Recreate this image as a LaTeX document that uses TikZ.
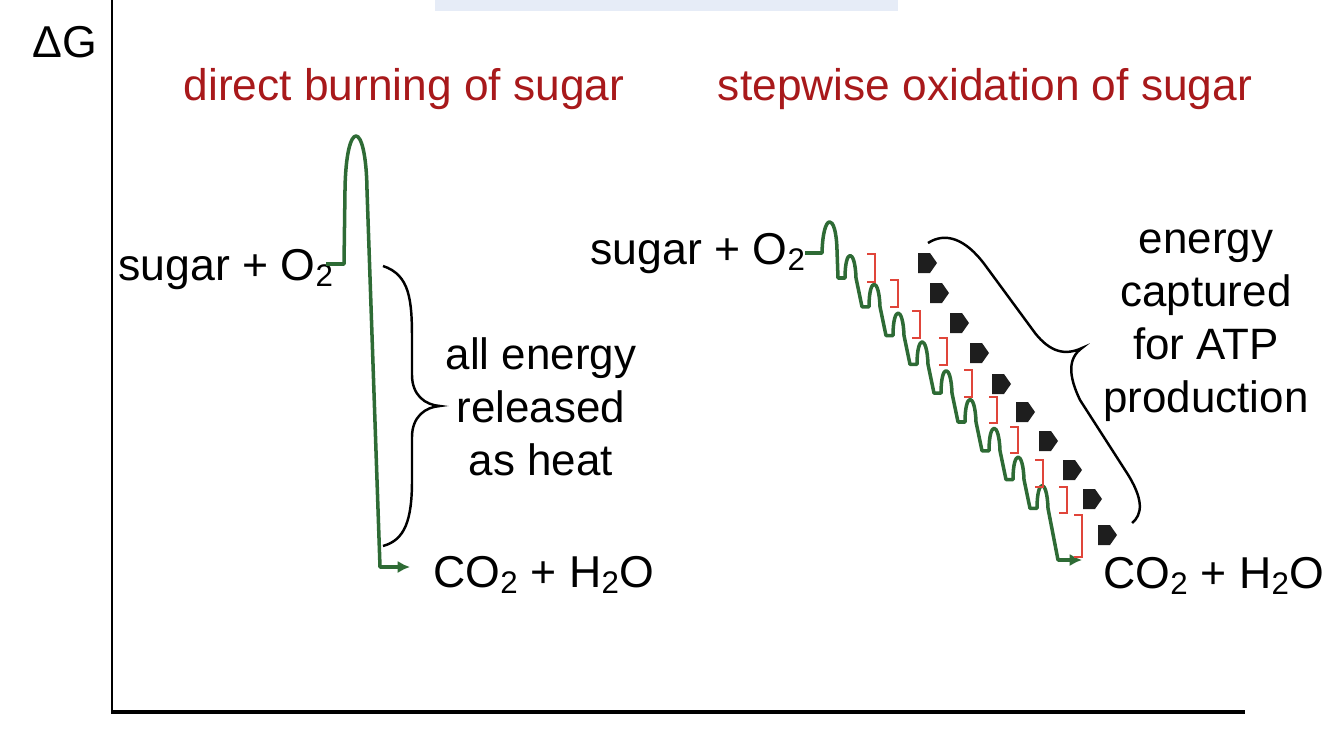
\documentclass[tikz,border=0pt]{standalone}
\usepackage{fontspec}
\setmainfont{Liberation Sans}
\usepackage{tikz}
\usetikzlibrary{arrows.meta}
\definecolor{leaf}{HTML}{2E6B35}
\definecolor{brick}{HTML}{A8191B}
\definecolor{flame}{HTML}{E0453A}
\definecolor{haze}{HTML}{E6ECF7}
\definecolor{ink}{HTML}{1E1E1E}

\begin{document}
\begin{tikzpicture}[x=0.02cm,y=-0.02cm,>={Latex[length=7pt,width=7pt]},
  chem/.style={inner sep=0pt,font=\fontsize{25.4}{31}\selectfont},
  lbl/.style={inner sep=0pt,align=center,font=\fontsize{25}{30.2}\selectfont},
  titletext/.style={inner sep=0pt,text=brick,font=\fontsize{25.2}{30}\selectfont},
  react/.style={leaf,line width=2pt,line join=round},
  curly/.style={line width=1.4pt},
  drop/.style={flame,line width=0.9pt},
  atp/.style={fill=ink}]
\useasboundingbox (0,0) rectangle (1334,733);
\fill[haze] (435,0) rectangle (898,11);
\draw[line width=1.2pt] (112,0) -- (112,712);
\draw[line width=2pt] (111,712) -- (1245,712);
\node[chem] (dG) at (65,42) {ΔG};
\node[titletext,anchor=base] (direct) at (404,101) {direct burning of sugar};
\node[titletext,anchor=base] (stepwise) at (985,101) {stepwise oxidation of sugar};
\node[chem,anchor=base west] (sugarL) at (118,280) {sugar + O\textsubscript{2}};
\node[chem,anchor=base west] (prodL) at (433,587) {CO\textsubscript{2} + H\textsubscript{2}O};
\node[chem,anchor=base west] (sugarR) at (590,264) {sugar + O\textsubscript{2}};
\node[chem,anchor=base west] (prodR) at (1103,588) {CO\textsubscript{2} + H\textsubscript{2}O};
\node[lbl] (heat) at (541,407) {all energy\\released\\as heat};
\node[lbl] (capture) at (1206,326) {energy\\captured\\for ATP\\production};
\coordinate (startL) at (326,264);
\coordinate (endL) at (410,567);
\coordinate (startR) at (805,253);
\coordinate (endR) at (1082,560);
\draw[react,->] (startL) -- (344,264) -- (345,190) .. controls (346,118) and (366,118) .. (367,190) -- (380,567) -- (endL);
\draw[react,->] (startR) -- (822,253) .. controls (823,212) and (836,212) .. (837,250) -- (838,278)
  \foreach \i [evaluate=\i as \x using 838+24*\i, evaluate=\i as \y using 278+28.8*\i] in {0,...,7} {
    -- (\x+7,\y) .. controls (\x+7,\y-30) and (\x+17,\y-30) .. (\x+18,\y) -- (\x+24,\y+28.8)}
  -- (1037,508.4) .. controls (1037,478) and (1047,478) .. (1048,508.4) -- (1058,560) -- (endR);
\foreach \a/\b/\c in {875/254/282,898/280/307,920/311/338,947/338/365,972/370/397,997/397/423,1018/427/453,1043/460/487,1067/487/513,1082/515/557}
  \draw[drop] (\a-8,\b) -- (\a,\b) -- (\a,\c) -- (\a-8,\c);
\foreach \x/\y in {918/253,930/283,950/313,970/343,992/374,1016/402,1039/431,1063/460,1083/489,1098/525}
  \fill[atp] (\x,\y) -- (\x+12,\y) -- (\x+19,\y+10) -- (\x+12,\y+20) -- (\x,\y+20) -- cycle;
\draw[curly] (383,266) .. controls (410,275) and (412,300) .. (412,340) -- (412,375) .. controls (412,395) and (425,405) .. (440,406)
  .. controls (425,407) and (412,417) .. (412,437) -- (412,480) .. controls (412,520) and (405,540) .. (383,546);
\draw[curly] (928,243) .. controls (945,232) and (965,238) .. (985,265) -- (1035,333) .. controls (1050,352) and (1065,356) .. (1082,348)
  .. controls (1068,358) and (1068,375) .. (1080,400) -- (1125,470) .. controls (1145,500) and (1142,515) .. (1132,523);
\end{tikzpicture}
\end{document}
